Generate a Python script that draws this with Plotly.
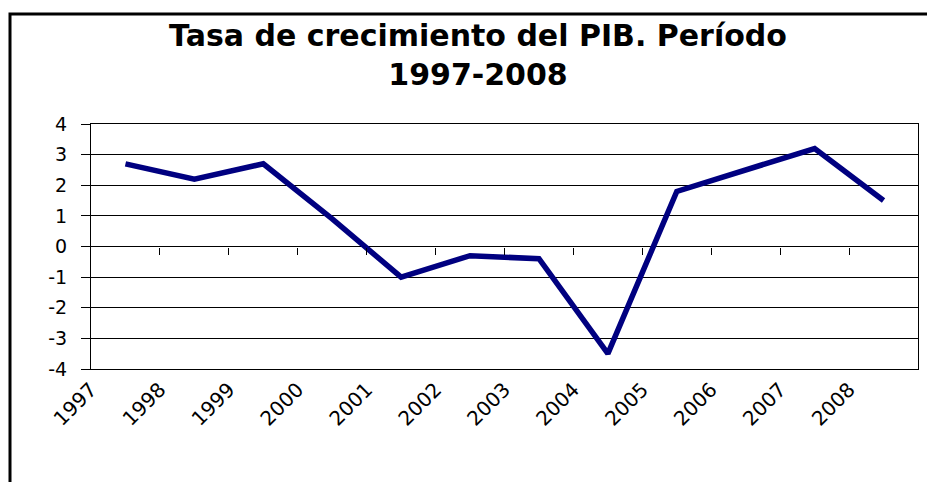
import plotly.graph_objects as go

years = ["1997", "1998", "1999", "2000", "2001", "2002", "2003", "2004", "2005", "2006", "2007", "2008"]
growth = [2.7, 2.2, 2.7, 0.9, -1.0, -0.3, -0.4, -3.5, 1.8, 2.5, 3.2, 1.5]
y_ticks = [-4, -3, -2, -1, 0, 1, 2, 3, 4]
title_text = "Tasa de crecimiento del PIB. Período<br>1997-2008"

W, H = 927, 482
L, R, T, B = 91, 9, 124, 113
pw, ph = W - L - R, H - T - B

n = len(years)
x_pos = [i + 0.5 for i in range(n)]
label_pos = list(range(n))
inner_ticks = list(range(1, n))

FONT = "DejaVu Sans, Arial, sans-serif"

fig = go.Figure()
fig.add_trace(go.Scatter(
    x=x_pos, y=growth, mode="lines",
    line=dict(color="#000080", width=5.5),
    hoverinfo="skip", showlegend=False,
))
# invisible trace to register the tick axis on the zero line
fig.add_trace(go.Scatter(
    x=x_pos, y=growth, mode="lines", xaxis="x2",
    line=dict(color="rgba(0,0,0,0)", width=0),
    hoverinfo="skip", showlegend=False,
))

fig.update_layout(
    width=W, height=H,
    margin=dict(l=L, r=R, t=T, b=B),
    paper_bgcolor="white", plot_bgcolor="white",
    font=dict(family=FONT, color="black"),
    title=dict(
        text=title_text, x=478 / W, xref="container", xanchor="center",
        y=1 - 46 / H, yref="container", yanchor="middle",
        font=dict(family=FONT, size=30, color="black", weight="bold"),
    ),
    xaxis=dict(
        range=[0, n], tickmode="array", tickvals=label_pos, ticktext=years,
        tickangle=-45, ticks="", showgrid=False, zeroline=False,
        showline=True, linecolor="black", linewidth=1, mirror=True,
        tickfont=dict(size=20, family=FONT, color="black"),
        fixedrange=True,
    ),
    xaxis2=dict(
        range=[0, n], overlaying="x", anchor="free", position=0.5,
        tickmode="array", tickvals=inner_ticks, ticks="outside", ticklen=7,
        tickcolor="black", tickwidth=1, showticklabels=False,
        showgrid=False, zeroline=False, showline=False,
    ),
    yaxis=dict(
        range=[-4, 4], tickmode="array", tickvals=y_ticks,
        ticktext=[str(v) for v in y_ticks],
        ticks="outside", ticklen=9, tickcolor="black",
        showgrid=True, gridcolor="black", gridwidth=1,
        zeroline=True, zerolinecolor="black", zerolinewidth=1,
        showline=True, linecolor="black", linewidth=1, mirror=True,
        tickfont=dict(size=19, family=FONT, color="black"),
        ticklabelstandoff=10,
        fixedrange=True,
    ),
)

# chart-area border (extends past the right and bottom edges of the picture)
fig.add_shape(
    type="rect", xref="paper", yref="paper",
    x0=(10 - L) / pw, x1=(W + 20 - L) / pw,
    y0=-(B + 20) / ph, y1=(H - B - 14) / ph,
    line=dict(color="black", width=3), fillcolor="rgba(0,0,0,0)",
    layer="below",
)

fig.write_html(
    "out.html",
    config={"displayModeBar": False, "staticPlot": True},
    post_script="document.body.style.margin='0px';",
)
